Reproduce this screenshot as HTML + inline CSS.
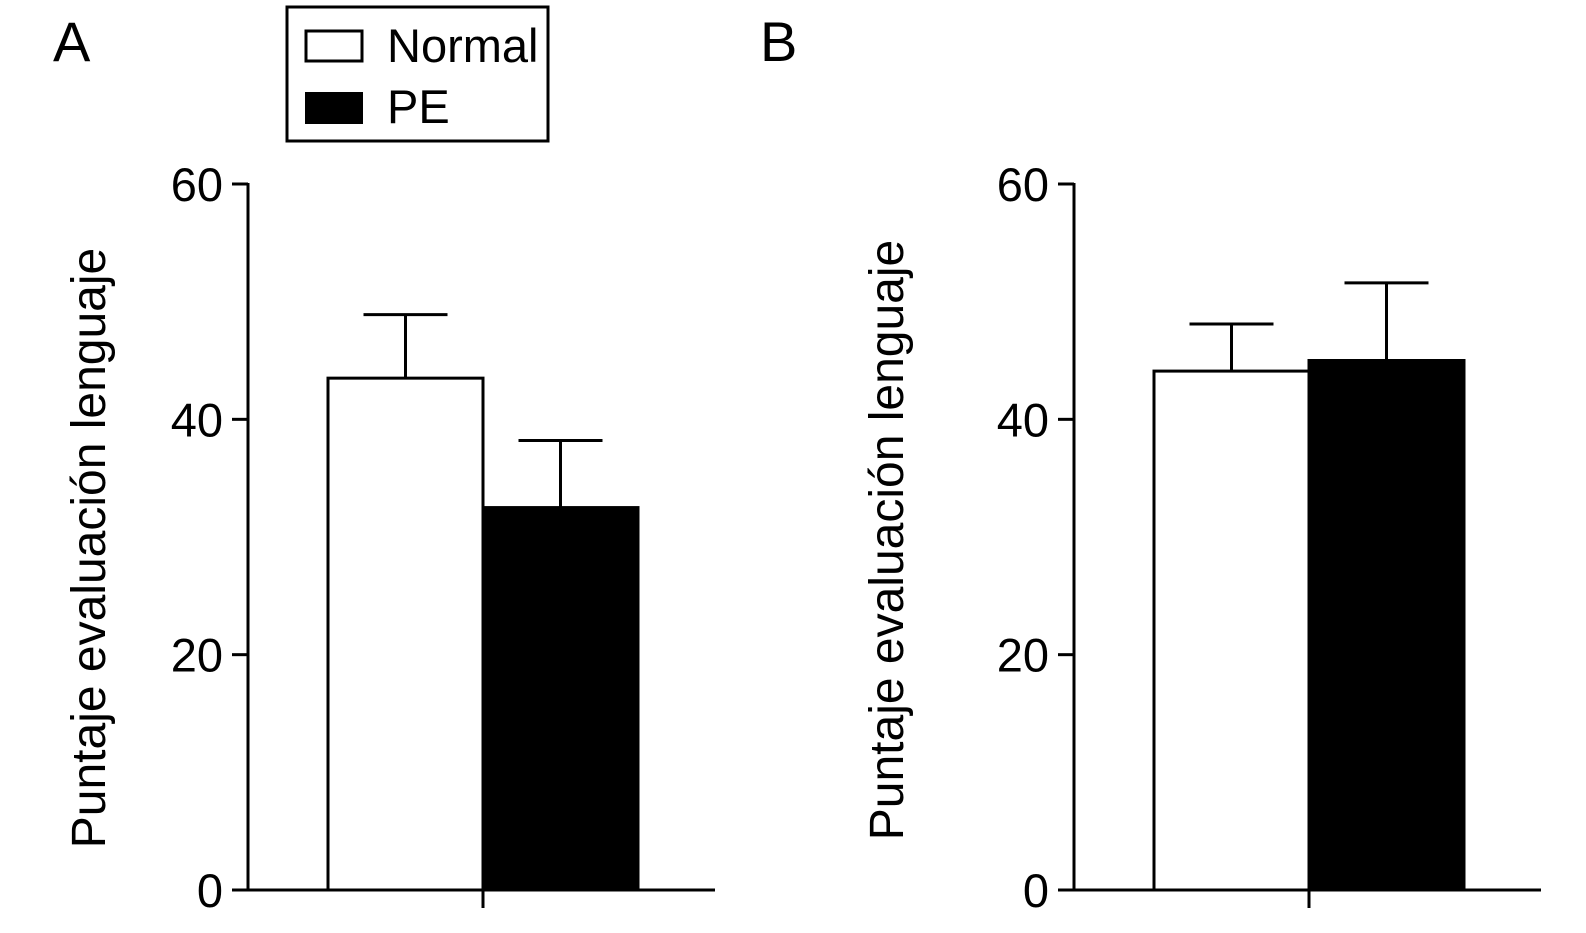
<!DOCTYPE html>
<html><head><meta charset="utf-8"><style>
html,body{margin:0;padding:0;background:#fff;}
svg{display:block;font-family:"Liberation Sans",Arial,sans-serif;}
</style></head><body>
<svg id="chart" width="1586" height="933" viewBox="0 0 1586 933" xmlns="http://www.w3.org/2000/svg">
<text x="53" y="61" font-size="56">A</text>
<text x="760" y="61" font-size="56">B</text>
<g>
<rect x="287" y="7" width="261" height="134" fill="#fff" stroke="#000" stroke-width="3"/>
<rect x="306" y="31" width="56" height="30" fill="#fff" stroke="#000" stroke-width="3"/>
<text x="387" y="62" font-size="47">Normal</text>
<rect x="305" y="92" width="58" height="32" fill="#000"/>
<text x="387" y="123" font-size="47">PE</text>
</g>
<g id="panels"></g>
</svg>
<script>
const series = ["Normal", "PE"];
const meansA = [43.5, 32.5];
const errA = [48.9, 38.2];
const meansB = [44.1, 45.0];
const errB = [48.1, 51.6];
const yTicks = [0, 20, 40, 60];
const yTitle = "Puntaje evaluación lenguaje";

const NS = "http://www.w3.org/2000/svg";
const root = document.getElementById("panels");
function mk(tag, attrs, parent) {
  const e = document.createElementNS(NS, tag);
  for (const k in attrs) e.setAttribute(k, attrs[k]);
  parent.appendChild(e);
  return e;
}
function panel(key, x0, titleX, titleY, means, errs) {
  const y0 = 890, yTop = 184;
  const y = v => y0 - (v / 60) * (y0 - yTop);
  const g = mk("g", {}, root);
  
  
  const barW = 155, start = x0 + 80;
  means.forEach((m, i) => {
    const bx = start + i * barW;
    const ex = bx + barW / 2;
    const el = mk("line", {x1: ex, x2: ex, y1: y(m), y2: y(errs[i]), stroke: "#000", "stroke-width": 3}, g);
    
    
    const cap = mk("line", {x1: ex - 42, x2: ex + 42, y1: y(errs[i]), y2: y(errs[i]), stroke: "#000", "stroke-width": 3}, g);
    
    
    const r = mk("rect", {x: bx, y: y(m), width: barW, height: y0 - y(m), fill: i ? "#000" : "#fff", stroke: "#000", "stroke-width": 3}, g);
    
    
  });
  const ya = mk("line", {x1: x0, x2: x0, y1: yTop - 1, y2: y0 + 1.5, stroke: "#000", "stroke-width": 3}, g);
  
  
  const xa = mk("line", {x1: x0, x2: x0 + 467, y1: y0, y2: y0, stroke: "#000", "stroke-width": 3}, g);
  
  
  const xt = mk("line", {x1: start + barW, x2: start + barW, y1: y0, y2: y0 + 18, stroke: "#000", "stroke-width": 3}, g);
  
  
  yTicks.forEach(t => {
    const tl = mk("line", {x1: x0 - 16, x2: x0, y1: y(t), y2: y(t), stroke: "#000", "stroke-width": 3}, g);
    
    
    const tx = mk("text", {x: x0 - 25, y: y(t) + 17, "font-size": 47, "text-anchor": "end"}, g);
    tx.textContent = t;
    
    
  });
  const tt = mk("text", {x: titleX, y: titleY, "font-size": 48, "text-anchor": "middle", transform: "rotate(-90 " + titleX + " " + titleY + ")"}, g);
  tt.textContent = yTitle;
  
  
}
panel("a", 248, 105, 548, meansA, errA);
panel("b", 1074, 903, 540, meansB, errB);
</script>
</body></html>
